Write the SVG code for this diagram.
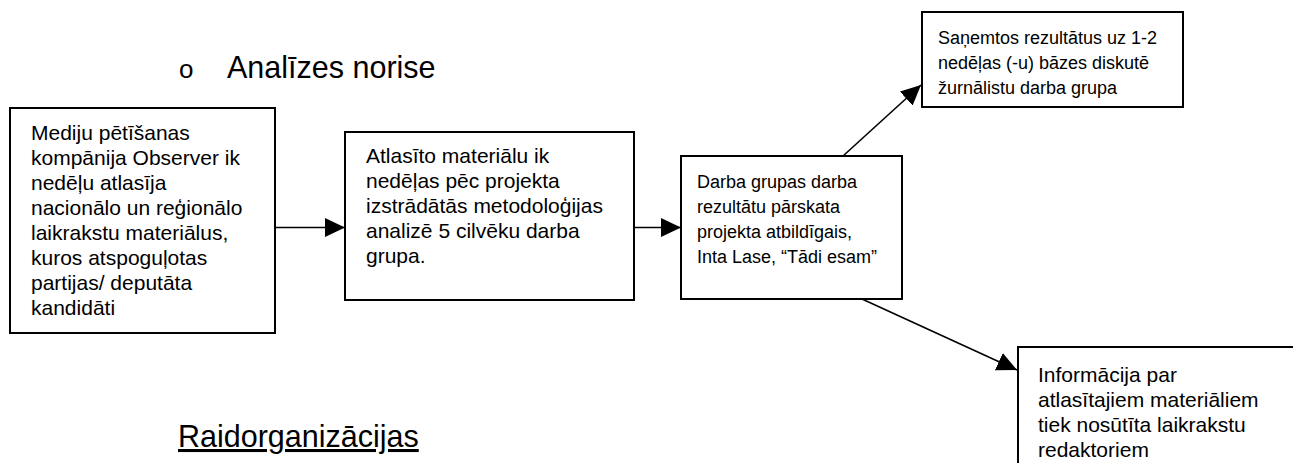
<svg xmlns="http://www.w3.org/2000/svg" width="1293" height="463" viewBox="0 0 1293 463">
<style>
.box{fill:#fff;stroke:#000;stroke-width:2}
.t{font-family:'Liberation Sans',Arial,sans-serif;font-size:21px;fill:#000}
.s{font-size:18px}
.h{font-family:'Liberation Sans',Arial,sans-serif;font-size:30.5px;fill:#000}
.c{stroke:#000;stroke-width:1.6;fill:none;marker-end:url(#ah)}
</style>
<defs>
<marker id="ah" markerUnits="userSpaceOnUse" markerWidth="21" markerHeight="20" refX="20" refY="9.5" orient="auto" viewBox="0 0 21 20">
<path d="M0,0 L20,9.5 L0,19 Z" fill="#000"/>
</marker>
</defs>
<rect width="1293" height="463" fill="#fff"/>
<g id="heading1">
<text class="h" x="179" y="78" style="font-size:26px">o</text>
<text class="h" x="227" y="78">Analīzes norise</text>
</g>
<g id="heading2">
<text class="h" x="178" y="447" text-decoration="underline">Raidorganizācijas</text>
</g>
<g id="connectors">
<line class="c" x1="275" y1="227.5" x2="345" y2="227.5"/>
<line class="c" x1="634" y1="227.5" x2="681" y2="227.5"/>
<line class="c" x1="843" y1="156" x2="921" y2="85"/>
<line class="c" x1="862" y1="299" x2="1017" y2="370"/>
</g>
<g id="node1">
<rect class="box" x="10" y="108" width="265" height="225"/>
<text class="t" x="31" y="140">Mediju pētīšanas</text>
<text class="t" x="31" y="165">kompānija Observer ik</text>
<text class="t" x="31" y="190">nedēļu atlasīja</text>
<text class="t" x="31" y="215">nacionālo un reģionālo</text>
<text class="t" x="31" y="240">laikrakstu materiālus,</text>
<text class="t" x="31" y="265">kuros atspoguļotas</text>
<text class="t" x="31" y="290">partijas/ deputāta</text>
<text class="t" x="31" y="315">kandidāti</text>
</g>
<g id="node2">
<rect class="box" x="345" y="132" width="289" height="168"/>
<text class="t" x="366" y="163">Atlasīto materiālu ik</text>
<text class="t" x="366" y="188">nedēļas pēc projekta</text>
<text class="t" x="366" y="213">izstrādātās metodoloģijas</text>
<text class="t" x="366" y="238">analizē 5 cilvēku darba</text>
<text class="t" x="366" y="263">grupa.</text>
</g>
<g id="node3">
<rect class="box" x="681" y="156" width="221" height="143"/>
<text class="t s" x="697" y="188">Darba grupas darba</text>
<text class="t s" x="697" y="213">rezultātu pārskata</text>
<text class="t s" x="697" y="238">projekta atbildīgais,</text>
<text class="t s" x="697" y="263">Inta Lase, “Tādi esam”</text>
</g>
<g id="node4">
<rect class="box" x="922" y="12" width="261" height="95"/>
<text class="t s" x="938" y="44">Saņemtos rezultātus uz 1-2</text>
<text class="t s" x="938" y="69">nedēļas (-u) bāzes diskutē</text>
<text class="t s" x="938" y="94">žurnālistu darba grupa</text>
</g>
<g id="node5">
<rect class="box" x="1018" y="347" width="290" height="130"/>
<text class="t" x="1038" y="382">Informācija par</text>
<text class="t" x="1038" y="407">atlasītajiem materiāliem</text>
<text class="t" x="1038" y="432">tiek nosūtīta laikrakstu</text>
<text class="t" x="1038" y="457">redaktoriem</text>
</g>
</svg>
